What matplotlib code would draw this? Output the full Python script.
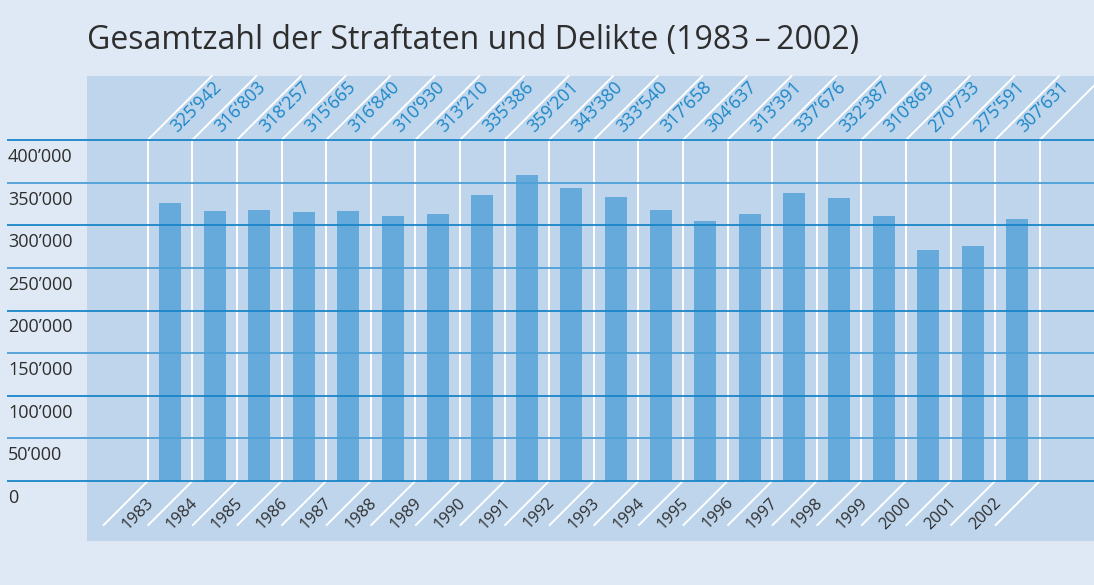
import matplotlib
matplotlib.use('Agg')
from matplotlib import pyplot as plt

# data
years = ['1983', '1984', '1985', '1986', '1987', '1988', '1989', '1990', '1991', '1992',
         '1993', '1994', '1995', '1996', '1997', '1998', '1999', '2000', '2001', '2002']
totals = [325942, 316803, 318257, 315665, 316840, 310930, 313210, 335386, 359201, 343380,
          333540, 317658, 304637, 313391, 337676, 332387, 310869, 270733, 275591, 307631]
y_ticks = [0, 50000, 100000, 150000, 200000, 250000, 300000, 350000, 400000]

W, H = 1094, 585
bg = '#dfe9f5'
panel = '#bed5ec'
bar_col = '#66aadb'
line_dark = '#1985c8'
line_light = '#4c9fd6'
txt_blue = '#1a86c8'
txt_dark = '#2e2e2e'

plt.rcParams['font.family'] = ['Open Sans', 'DejaVu Sans']

fig = plt.figure(figsize=(W / 100, H / 100), dpi=100)
fig.patch.set_facecolor(bg)
ax = fig.add_axes([0, 0, 1, 1])
ax.set_axis_off()

# pixel anchors: column centre of first year at x=170, column pitch 44.6 px,
# value 0 at y=481 px and 400'000 at y=140 px (from top)
pitch = 44.6
x0 = 170.0
y_zero = 481.0
ppu = (481.0 - 140.0) / 400000.0


def px(x):
	return (x - x0) / pitch


def py(y):
	return (y_zero - y) / ppu


ax.set_xlim(px(0), px(W))
ax.set_ylim(py(H), py(0))

n = len(years)
idx = list(range(n))

# panel
ax.fill_between([px(87), px(W)], py(541), py(76), color=panel, lw=0, zorder=0)

# bars
ax.bar(idx, totals, width=22 / pitch, color=bar_col, zorder=2)

# horizontal grid lines
for k, t in enumerate(y_ticks):
	c = line_dark if k % 2 == 0 else line_light
	ax.plot([px(7), px(W)], [t, t], color=c, lw=1.3, zorder=3, solid_capstyle='butt')
	lab = '0' if t == 0 else '{}’{:03d}'.format(t // 1000, t % 1000)
	ax.text(px(8), t - 8 / ppu, lab, ha='left', va='top', fontsize=13, color=txt_dark, zorder=4)

# column separators and diagonals
for i in range(n + 1):
	xl = i - 0.5
	ax.plot([xl, xl], [0, y_ticks[-1]], color='white', lw=1.4, zorder=1)
	ax.plot([xl, xl + 64 / pitch], [y_ticks[-1], y_ticks[-1] + 64 / ppu], color='white', lw=1.4, zorder=1)
	ax.plot([xl, xl - 44 / pitch], [0, -44 / ppu], color='white', lw=1.4, zorder=1)

# value labels on top, year labels below
for i in idx:
	v = totals[i]
	ax.text(i + 7 / pitch, py(133), '{}’{:03d}'.format(v // 1000, v % 1000), rotation=45,
		rotation_mode='anchor', ha='left', va='baseline', fontsize=12.8, color=txt_blue, zorder=4)
	ax.text(i - 16 / pitch, py(503), years[i], rotation=45, rotation_mode='anchor',
		ha='right', va='baseline', fontsize=11.8, color=txt_dark, zorder=4)

fig.text(87 / W, 1 - 40 / H, 'Gesamtzahl der Straftaten und Delikte (1983\u2009–\u20092002)', ha='left', va='center',
	fontsize=23, color=txt_dark)

fig.savefig('out.png', dpi=100, facecolor=bg)
